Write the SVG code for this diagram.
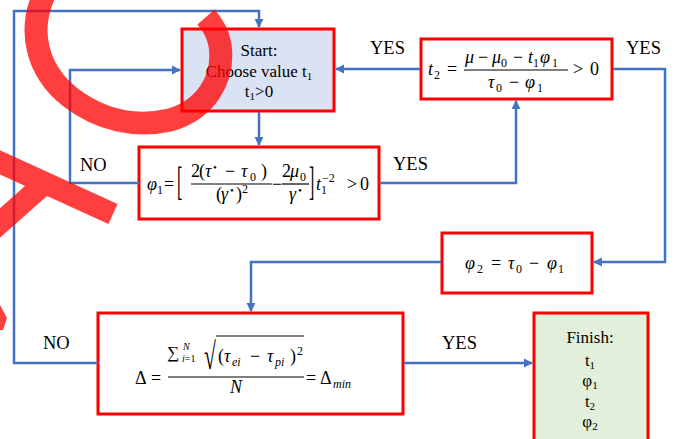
<svg xmlns="http://www.w3.org/2000/svg" width="682" height="439" viewBox="0 0 682 439">
<defs>
<style>
.box{stroke:#ff0000;stroke-width:3}
.conn{fill:none;stroke:#4472c4;stroke-width:2.5}
.lbl{font-family:"Liberation Serif",serif;font-size:18.5px;fill:#000}
.t{font-family:"Liberation Serif",serif;font-size:17px;fill:#000;text-anchor:middle}
.mt{font-family:"Liberation Serif",serif;font-size:18px;fill:#000}
.i{font-style:italic}
.sb{font-size:11px}
.ms{font-size:12px}
.bar{stroke:#000;stroke-width:1.2}
.wm{fill:none;stroke:#ff0000;stroke-width:23}
</style>
<marker id="ah" viewBox="0 0 10 10" refX="9" refY="5" markerWidth="9" markerHeight="10" markerUnits="userSpaceOnUse" orient="auto"><path d="M0,0 L10,5 L0,10 z" fill="#4472c4"/></marker>
</defs>
<rect width="682" height="439" fill="#fff"/>

<g id="start">
<rect class="box" x="182" y="29" width="152" height="82" fill="#dae3f3"/>
<text class="t" x="259" y="56">Start:</text>
<text class="t" x="259" y="77">Choose value t<tspan class="sb" dy="3">1</tspan></text>
<text class="t" x="259" y="97">t<tspan class="sb" dy="3">1</tspan><tspan dy="-3">&gt;0</tspan></text>
</g>

<g id="phi1">
<rect class="box" x="139" y="147" width="240" height="72" fill="#fff"/>
<text class="mt"><tspan class="i" x="147" y="190">φ</tspan><tspan class="ms" x="157" y="194">1</tspan><tspan x="164" y="190">=</tspan></text>
<text class="mt" style="font-size:40px" transform="translate(177,195) scale(0.4,1)">[</text>
<text class="mt"><tspan x="191" y="177">2</tspan><tspan x="199">(</tspan><tspan class="i" x="205">τ</tspan><tspan class="sb" x="213" y="171">•</tspan><tspan x="225" y="177">−</tspan><tspan class="i" x="241">τ</tspan><tspan class="ms" x="250" y="181">0</tspan><tspan x="261" y="177">)</tspan></text>
<line class="bar" x1="191" y1="184" x2="272" y2="184"/>
<text class="mt"><tspan x="216" y="200">(</tspan><tspan class="i" x="221">γ</tspan><tspan class="sb" x="230" y="194">•</tspan><tspan x="236" y="200">)</tspan><tspan class="ms" x="242" y="193">2</tspan></text>
<text class="mt" x="272" y="190">−</text>
<text class="mt"><tspan x="282" y="177">2</tspan><tspan class="i" x="290">μ</tspan><tspan class="ms" x="300" y="181">0</tspan></text>
<line class="bar" x1="282" y1="184" x2="309" y2="184"/>
<text class="mt"><tspan class="i" x="289" y="200">γ</tspan><tspan class="sb" x="298" y="194">•</tspan></text>
<text class="mt" style="font-size:40px" transform="translate(309,195) scale(0.4,1)">]</text>
<text class="mt"><tspan class="i" x="316" y="190">t</tspan><tspan class="ms" x="321" y="194">1</tspan><tspan class="ms" x="322" y="182">−2</tspan><tspan x="347" y="190">&gt;</tspan><tspan x="360">0</tspan></text>
</g>

<g id="t2">
<rect class="box" x="421" y="39" width="191" height="60" fill="#fff"/>
<text class="mt"><tspan class="i" x="428" y="75">t</tspan><tspan class="ms" x="434" y="79">2</tspan><tspan x="447" y="75">=</tspan></text>
<text class="mt"><tspan class="i" x="465" y="63">μ</tspan><tspan x="478">−</tspan><tspan class="i" x="492">μ</tspan><tspan class="ms" x="501" y="67">0</tspan><tspan x="513" y="63">−</tspan><tspan class="i" x="528">t</tspan><tspan class="ms" x="533" y="67">1</tspan><tspan class="i" x="540" y="63">φ</tspan><tspan class="ms" x="552" y="67">1</tspan></text>
<line class="bar" x1="464" y1="70" x2="568" y2="70"/>
<text class="mt"><tspan class="i" x="488" y="88">τ</tspan><tspan class="ms" x="496" y="92">0</tspan><tspan x="509" y="88">−</tspan><tspan class="i" x="525">φ</tspan><tspan class="ms" x="537" y="92">1</tspan></text>
<text class="mt"><tspan x="573" y="75">&gt;</tspan><tspan x="590">0</tspan></text>
</g>

<g id="phi2">
<rect class="box" x="442" y="233" width="150" height="60" fill="#fff"/>
<text class="mt"><tspan class="i" x="465" y="269">φ</tspan><tspan class="ms" x="477" y="273">2</tspan><tspan x="491" y="269">=</tspan><tspan class="i" x="508">τ</tspan><tspan class="ms" x="516" y="273">0</tspan><tspan x="529" y="269">−</tspan><tspan class="i" x="547">φ</tspan><tspan class="ms" x="558" y="273">1</tspan></text>
</g>

<g id="delta">
<rect class="box" x="98" y="313" width="305" height="101" fill="#fff"/>
<text class="mt"><tspan x="135" y="384">Δ</tspan><tspan x="151">=</tspan></text>
<text class="mt" style="font-size:17px" x="167" y="358">∑</text>
<text class="mt i" style="font-size:10px" x="183" y="350">N</text>
<text class="mt" style="font-size:10px" y="362"><tspan class="i" x="182">i</tspan><tspan>=1</tspan></text>
<text class="mt" style="font-size:24px" transform="translate(204,369) scale(0.9,1.57)">√</text>
<line class="bar" x1="216" y1="336" x2="304" y2="336"/>
<text class="mt"><tspan x="218" y="362">(</tspan><tspan class="i" x="224">τ</tspan><tspan class="ms i" x="232" y="366">ei</tspan><tspan x="250" y="362">−</tspan><tspan class="i" x="267">τ</tspan><tspan class="ms i" x="275" y="366">pi</tspan><tspan x="290" y="362">)</tspan><tspan class="ms" x="297" y="355">2</tspan></text>
<line class="bar" x1="168" y1="377" x2="304" y2="377"/>
<text class="mt i" x="230" y="393">N</text>
<text class="mt"><tspan x="306" y="384">=</tspan><tspan x="320">Δ</tspan><tspan class="ms i" x="333" y="388">min</tspan></text>
</g>

<g id="finish">
<rect class="box" x="534" y="313" width="114" height="132" fill="#e2efda"/>
<text class="t" x="590" y="343">Finish:</text>
<text class="t" x="590" y="366">t<tspan class="sb" dy="3">1</tspan></text>
<text class="t" x="590" y="386">φ<tspan class="sb" dy="3">1</tspan></text>
<text class="t" x="590" y="407">t<tspan class="sb" dy="3">2</tspan></text>
<text class="t" x="590" y="427">φ<tspan class="sb" dy="3">2</tspan></text>
</g>

<g id="connectors">
<path class="conn" d="M98,363 H14 V11 H259 V27" marker-end="url(#ah)"/>
<path class="conn" d="M139,183 H70 V70 H180" marker-end="url(#ah)"/>
<path class="conn" d="M259,112 V145" marker-end="url(#ah)"/>
<path class="conn" d="M379,183 H516 V101" marker-end="url(#ah)"/>
<path class="conn" d="M420,69 H336" marker-end="url(#ah)"/>
<path class="conn" d="M613,69 H665 V262 H594" marker-end="url(#ah)"/>
<path class="conn" d="M441,262 H251 V311" marker-end="url(#ah)"/>
<path class="conn" d="M404,363 H532" marker-end="url(#ah)"/>
<text class="lbl" x="370" y="54">YES</text>
<text class="lbl" x="626" y="54">YES</text>
<text class="lbl" x="393" y="170">YES</text>
<text class="lbl" x="80" y="171">NO</text>
<text class="lbl" x="43" y="349">NO</text>
<text class="lbl" x="442" y="349">YES</text>
</g>

<g id="annotation" opacity="0.75">
<path class="wm" d="M44,-5 C28,30 36,70 70,97 C100,120 135,128 170,120 C205,110 225,80 220,45 C218,33 213,25 206,17"/>
<path class="wm" style="stroke-width:22" d="M-5,160 L113,214"/>
<path class="wm" style="stroke-width:22" d="M45,183 L-10,232"/>
<polygon points="0,305 7,318 3,330 0,330" fill="#ff0000"/>
</g>
</svg>
